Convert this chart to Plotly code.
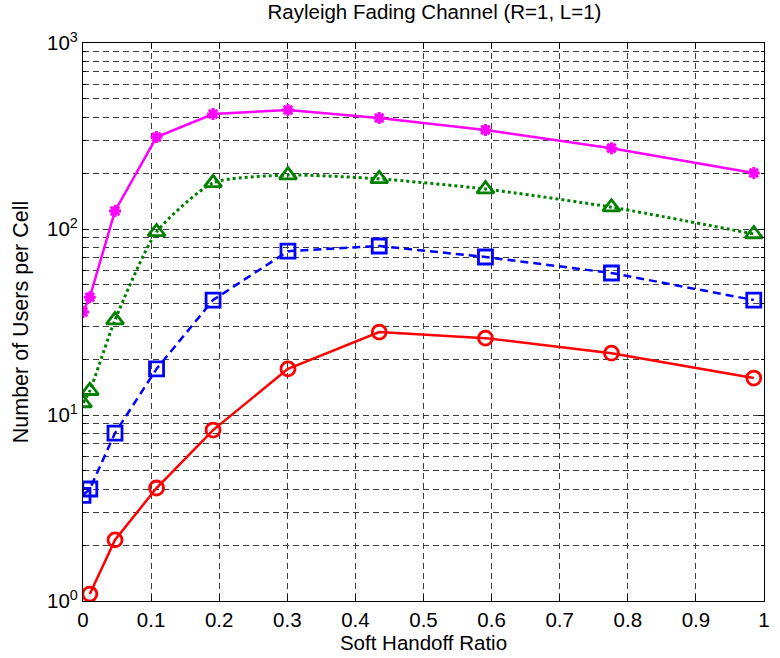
import plotly.graph_objects as go

# Soft handoff ratio sample points
ratio = [0.0, 0.010, 0.047, 0.108, 0.191, 0.301, 0.435, 0.591, 0.776, 0.985]

# Users per cell for each curve
users_star = [35.8, 43, 125, 312, 415, 436, 395, 341, 272, 200]
users_tri = [11.6, 13.5, 32.4, 96.4, 177, 195, 186, 164, 131, 94]
users_sq = [3.7, 4.0, 8.0, 17.7, 41.5, 76, 81, 70.7, 58, 41.5]
ratio_circ = ratio[1:]
users_circ = [1.09, 2.13, 4.05, 8.3, 17.7, 27.9, 25.9, 21.5, 15.8]

x_ticks = [0, 0.1, 0.2, 0.3, 0.4, 0.5, 0.6, 0.7, 0.8, 0.9, 1]
x_labels = ["0", "0.1", "0.2", "0.3", "0.4", "0.5", "0.6", "0.7", "0.8", "0.9", "1"]
y_ticks = [1, 10, 100, 1000]
y_labels = ["10<sup>0</sup>", "10<sup>1</sup>", "10<sup>2</sup>", "10<sup>3</sup>"]
y_minor = [m * 10 ** d for d in range(3) for m in range(2, 10)]

FONT = "Liberation Sans, Arial, Helvetica, sans-serif"
GRID = "#3c3c3c"
GRID_DASH = "6px,4px"
TXT = 20.5

fig = go.Figure()
fig.add_trace(go.Scatter(
    x=ratio, y=users_star, mode="lines+markers",
    line=dict(color="#ff00ff", width=2.5),
    marker=dict(symbol="asterisk-open", size=10, line=dict(color="#ff00ff", width=3)),
))
fig.add_trace(go.Scatter(
    x=ratio, y=users_tri, mode="lines+markers",
    line=dict(color="#008000", width=3, dash="dot", shape="spline", smoothing=0.6),
    marker=dict(symbol="triangle-up-open", size=15, color="#008000",
                line=dict(color="#008000", width=2.8)),
))
fig.add_trace(go.Scatter(
    x=ratio, y=users_sq, mode="lines+markers",
    line=dict(color="#0000ff", width=2.5, dash="8px,5px"),
    marker=dict(symbol="square-open", size=14, color="#0000ff",
                line=dict(color="#0000ff", width=2.8)),
))
fig.add_trace(go.Scatter(
    x=ratio_circ, y=users_circ, mode="lines+markers",
    line=dict(color="#ff0000", width=2.5),
    marker=dict(symbol="circle-open", size=14, color="#ff0000",
                line=dict(color="#ff0000", width=2.8)),
))

fig.update_layout(
    width=780, height=658,
    margin=dict(l=83, r=10, t=43, b=57),
    paper_bgcolor="white", plot_bgcolor="white",
    showlegend=False,
    font=dict(family=FONT, size=TXT, color="black"),
    title=dict(text="Rayleigh Fading Channel (R=1, L=1)", x=0.557, xanchor="center",
               y=0.993, yanchor="top", font=dict(family=FONT, size=TXT)),
)
fig.update_xaxes(
    range=[0, 1], tickvals=x_ticks, ticktext=x_labels,
    ticks="inside", ticklen=6, tickcolor="black",
    showline=True, linecolor="black", linewidth=1.2, mirror="ticks",
    showgrid=True, gridcolor=GRID, griddash=GRID_DASH, gridwidth=1,
    zeroline=False,
    title=dict(text="Soft Handoff Ratio", standoff=2, font=dict(family=FONT, size=TXT)),
    tickfont=dict(family=FONT, size=TXT),
)
fig.update_yaxes(
    type="log", range=[0, 3], tickvals=y_ticks, ticktext=y_labels,
    ticks="inside", ticklen=6, tickcolor="black",
    showline=True, linecolor="black", linewidth=1.2, mirror="ticks",
    showgrid=True, gridcolor=GRID, griddash=GRID_DASH, gridwidth=1,
    zeroline=False,
    minor=dict(tickvals=y_minor, ticks="inside", ticklen=3, tickcolor="black",
               showgrid=True, gridcolor=GRID, griddash=GRID_DASH, gridwidth=1),
    title=dict(text="Number of Users per Cell", standoff=12, font=dict(family=FONT, size=21.5)),
    tickfont=dict(family=FONT, size=TXT),
)

fig.write_html("out.html")
